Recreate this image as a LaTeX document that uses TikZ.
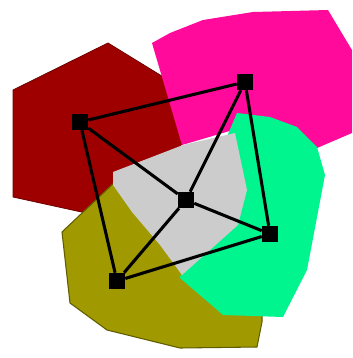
\documentclass[tikz,border=0pt]{standalone}
\begin{document}
\begin{tikzpicture}[x=0.75pt,y=-0.75pt,
  region/.style={line join=round},
  link/.style={draw=black,line width=2.3pt},
  vertex/.style={fill=black,draw=none,rectangle,minimum size=12pt,inner sep=0pt}]
\definecolor{cred}{HTML}{9E0000}
\definecolor{cpink}{HTML}{FF0A9B}
\definecolor{cgreen}{HTML}{00F58F}
\definecolor{cgray}{HTML}{CCCCCC}
\definecolor{colive}{HTML}{A09A00}
\useasboundingbox (0,0) rectangle (353,358);
\fill[white] (0,0) rectangle (353,358);
% red
\filldraw[region,fill=cred,draw=cred!70!black,line width=0.6pt]
  (108,43) -- (165,78) -- (185,140) -- (150,185) -- (86,213) -- (13,197) -- (13,90) -- cycle;
% pink
\fill[region,cpink]
  (152,43) -- (170,33) -- (203,20) -- (253,12) -- (328,10) -- (352,50) -- (352,133)
  -- (317,148) -- (250,125) -- (182,145) -- cycle;
% olive
\filldraw[region,fill=colive,draw=colive!60!black,line width=0.8pt]
  (62,232) -- (117,180) -- (150,190) -- (200,250) -- (262,310) -- (262,322)
  -- (257,347) -- (180,348) -- (107,330) -- (70,303) -- cycle;
% green
\fill[region,cgreen]
  (237,113) -- (270,117) -- (297,127) -- (317,147) -- (325,175) -- (307,270)
  -- (283,317) -- (223,315) -- (180,278) -- (200,200) -- cycle;
% gray
\fill[region,cgray]
  (113,172) -- (183,145) -- (235,133) -- (247,190) -- (238,225) -- (182,275)
  -- (160,245) -- (132,212) -- (113,185) -- cycle;
% nodes
\node[vertex] (A) at (80,122) {};
\node[vertex] (B) at (245,82) {};
\node[vertex] (C) at (186,200) {};
\node[vertex] (D) at (270,234) {};
\node[vertex] (E) at (117,281) {};
% links
\draw[link] (A) -- (B);
\draw[link] (B) -- (D);
\draw[link] (D) -- (E);
\draw[link] (E) -- (A);
\draw[link] (A) -- (C);
\draw[link] (B) -- (C);
\draw[link] (D) -- (C);
\draw[link] (E) -- (C);
\end{tikzpicture}
\end{document}
